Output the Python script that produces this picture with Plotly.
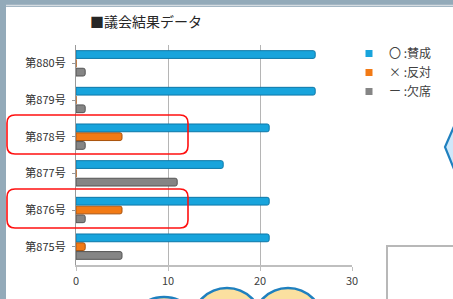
import plotly.graph_objects as go

# ---- data ----
categories = ["第875号", "第876号", "第877号", "第878号", "第879号", "第880号"]
approve = [21, 21, 16, 21, 26, 26]   # 〇：賛成
oppose = [1, 5, 0, 5, 0, 0]          # ×：反対
absent = [5, 1, 11, 1, 1, 1]         # ー：欠席
series_names = ["〇 :賛成", "× :反対", "ー :欠席"]
x_ticks = [0, 10, 20, 30]
title_text = "■議会結果データ"

W, H = 453, 299
FONT = "Noto Sans CJK JP"


def px(x):
    return x / W


def py(y):
    return 1 - y / H


BLUE, BLUE_EDGE = "#18a4dc", "#0d78a8"
ORANGE, ORANGE_EDGE = "#f27a15", "#a9520c"
GRAY, GRAY_EDGE = "#858585", "#555555"

fig = go.Figure()
# bottom-to-top order inside each group: gray, orange, blue
for vals, col, edge, name, rank in [
    (absent, GRAY, GRAY_EDGE, series_names[2], 3),
    (oppose, ORANGE, ORANGE_EDGE, series_names[1], 2),
    (approve, BLUE, BLUE_EDGE, series_names[0], 1),
]:
    fig.add_trace(go.Bar(
        y=categories, x=vals, orientation="h", name=name,
        marker=dict(color=col, line=dict(color=edge, width=1), cornerradius=2),
        showlegend=False, hoverinfo="skip",
    ))
    fig.add_trace(go.Scatter(
        x=[None], y=[None], mode="markers", name=name, legendrank=rank,
        marker=dict(symbol="square", size=7, color=col),
    ))


def rrect(x0, y0, x1, y1, r):
    X0, X1 = px(x0), px(x1)
    Y0, Y1 = py(y0), py(y1)
    rx, ry = r / W, r / H
    return (f"M{X0+rx},{Y0} L{X1-rx},{Y0} Q{X1},{Y0} {X1},{Y0-ry} "
            f"L{X1},{Y1+ry} Q{X1},{Y1} {X1-rx},{Y1} L{X0+rx},{Y1} "
            f"Q{X0},{Y1} {X0},{Y1+ry} L{X0},{Y0-ry} Q{X0},{Y0} {X0+rx},{Y0} Z")


shapes = [
    # white slide area
    dict(type="rect", xref="paper", yref="paper", x0=px(6), x1=px(W + 5),
         y0=py(H + 5), y1=py(7), fillcolor="white", line=dict(width=0), layer="below"),
    dict(type="line", xref="paper", yref="paper", x0=px(6), x1=px(W), y0=py(5.5), y1=py(5.5),
         line=dict(color="#d5dce1", width=1.5), layer="below"),
    # red highlight boxes
    dict(type="path", xref="paper", yref="paper", path=rrect(7, 115, 188, 154, 8),
         line=dict(color="#ff1010", width=1.6)),
    dict(type="path", xref="paper", yref="paper", path=rrect(7, 189, 188, 228, 8),
         line=dict(color="#ff1010", width=1.6)),
    # speech bubble on right
    dict(type="path", xref="paper", yref="paper",
         path=f"M{px(456)},{py(122)} L{px(445)},{py(147)} L{px(456)},{py(174)} Z",
         fillcolor="#cfe8fa", line=dict(color="#1f80bf", width=2.2)),
    # box at lower right
    dict(type="rect", xref="paper", yref="paper", x0=px(387), x1=px(W + 5), y0=py(H + 5), y1=py(246),
         line=dict(color="#b8b8b8", width=2)),
]
for cx, cy, r in [(164, 332, 35), (227, 323, 35), (288, 323, 35)]:
    shapes.append(dict(type="circle", xref="paper", yref="paper",
                       x0=px(cx - r), x1=px(cx + r), y0=py(cy + r), y1=py(cy - r),
                       fillcolor="#fbe0a0", line=dict(color="#1f80bf", width=2.5)))

fig.update_layout(
    width=W, height=H,
    margin=dict(l=0, r=0, t=0, b=0, autoexpand=False),
    paper_bgcolor="#93aab9",
    plot_bgcolor="white",
    barmode="group", bargap=0.28, bargroupgap=0.12,
    font=dict(family=FONT, size=11, color="#404040"),
    showlegend=True,
    legend=dict(x=px(349), y=py(39), xanchor="left", yanchor="top",
                bgcolor="rgba(0,0,0,0)", font=dict(size=12, color="#404040", family=FONT),
                itemwidth=30, tracegroupgap=0),
    xaxis=dict(domain=[px(76), px(352)], range=[0, 30], tickvals=x_ticks,
               showgrid=True, gridcolor="#b5b5b5", gridwidth=1.2,
               showline=True, linecolor="#bfbfbf", linewidth=1.5,
               ticks="outside", ticklen=4, tickcolor="#bfbfbf",
               ticklabelstandoff=1, zeroline=False, automargin=False,
               tickfont=dict(size=11, color="#404040", family=FONT)),
    yaxis=dict(domain=[py(265), py(45)], categoryorder="array", categoryarray=categories,
               showline=True, linecolor="#9a9a9a", linewidth=1.2,
               ticks="outside", ticklen=3, tickcolor="#9a9a9a",
               ticklabelstandoff=4, showgrid=False, automargin=False,
               tickfont=dict(size=11, color="#303030", family=FONT)),
    shapes=shapes,
    annotations=[dict(text=title_text, xref="paper", yref="paper", x=px(146), y=py(21),
                      xanchor="center", yanchor="middle", showarrow=False,
                      font=dict(size=14, color="#262626", family=FONT))],
)

fig.write_html("out.html", config={"displayModeBar": False},
               post_script="document.body.style.margin='0';")
